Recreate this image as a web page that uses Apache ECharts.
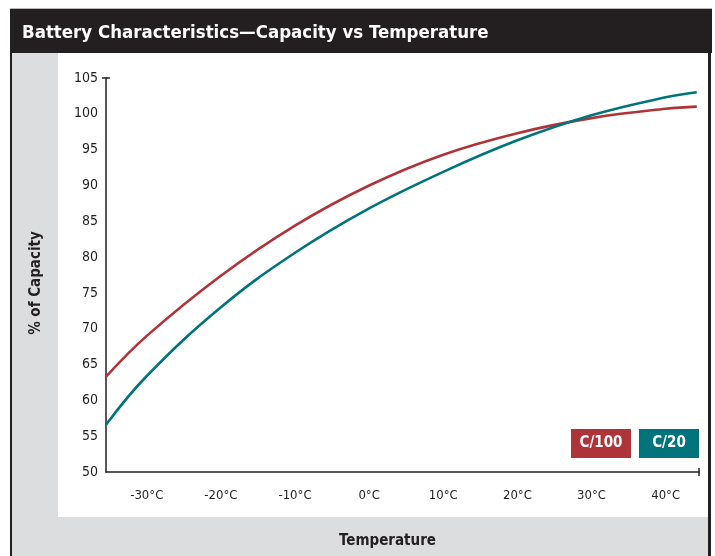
<!DOCTYPE html>
<html>
<head>
<meta charset="utf-8">
<script src="https://cdn.jsdelivr.net/npm/echarts@6/dist/echarts.min.js"></script>
<style>
  html, body { margin: 0; padding: 0; background: #ffffff; }
  #wrap { position: relative; width: 715px; height: 556px; overflow: hidden; }
  .blk { position: absolute; }
  #chart { position: absolute; left: 0; top: 0; width: 715px; height: 556px; }
</style>
</head>
<body>
<div id="wrap">
  <div class="blk" style="left:10px;top:8px;width:702px;height:1px;background:#b9b9b9;"></div>
  <div class="blk" style="left:10px;top:9px;width:702px;height:44px;background:#231f20;"></div>
  <div class="blk" style="left:10px;top:53px;width:2px;height:503px;background:#231f20;"></div>
  <div class="blk" style="left:708px;top:53px;width:3px;height:503px;background:#231f20;"></div>
  <div class="blk" style="left:12px;top:53px;width:46px;height:503px;background:#dcdddf;"></div>
  <div class="blk" style="left:12px;top:517px;width:696px;height:39px;background:#dcdddf;"></div>
  <div id="chart"></div>
</div>
<script>
// ---- data ----
const titleText = 'Battery Characteristics\u2014Capacity vs Temperature';
const xAxisName = 'Temperature';
const yAxisName = '% of Capacity';
const xTickValues = [-30, -20, -10, 0, 10, 20, 30, 40];
const temps = [-35.5, -30, -20, -10, 0, 10, 20, 30, 40, 44.2];
const c100 = [63.3, 69.0, 77.4, 84.4, 90.0, 94.3, 97.3, 99.4, 100.7, 101.0];
const c20  = [56.6, 63.4, 73.0, 80.6, 86.8, 91.9, 96.3, 99.8, 102.3, 103.0];
const seriesNames = ['C/100', 'C/20'];
const seriesColors = ['#ae3439', '#00737b'];

const FONT = '"DejaVu Sans Condensed", "Liberation Sans Narrow", sans-serif';

const chart = echarts.init(document.getElementById('chart'), null, { renderer: 'canvas' });

function pairs(xs, ys) { return xs.map((x, i) => [x, ys[i]]); }

const richBox = (c) => ({ backgroundColor: c, color: '#fff', width: 60, height: 29, lineHeight: 29, align: 'center', fontFamily: FONT, fontWeight: 'bold', fontSize: 15 });

const option = {
  animation: false,
  backgroundColor: 'transparent',
  title: {
    text: titleText,
    left: 17,
    top: 19,
    textStyle: { color: '#ffffff', fontFamily: FONT, fontWeight: 'bold', fontSize: 18.5 }
  },
  grid: { left: 106, right: 16, top: 78, bottom: 84 },
  legend: {
    right: 16,
    top: 429,
    padding: 0,
    icon: 'rect',
    itemWidth: 0,
    itemHeight: 0,
    itemGap: 3,
    selectedMode: false,
    data: seriesNames.map(n => ({ name: n })),
    formatter: function (name) {
      return '{s' + seriesNames.indexOf(name) + '|' + name + '}';
    },
    textStyle: {
      rich: { s0: richBox(seriesColors[0]), s1: richBox(seriesColors[1]) }
    }
  },
  xAxis: {
    type: 'value',
    min: -35.5,
    max: 44.5,
    name: xAxisName,
    nameLocation: 'middle',
    nameGap: 62,
    nameTextStyle: { color: '#231f20', fontFamily: FONT, fontWeight: 'bold', fontSize: 15, padding: [0, 30, 0, 0] },
    axisLine: { show: true, onZero: false, symbol: ['none', 'rect'], symbolSize: [8, 1.5], lineStyle: { color: '#231f20', width: 1.5 } },
    axisTick: { show: false },
    splitLine: { show: false },
    axisLabel: {
      customValues: xTickValues,
      formatter: v => v + '°C',
      color: '#231f20', fontFamily: FONT, fontSize: 13, margin: 17
    }
  },
  yAxis: {
    type: 'value',
    min: 50,
    max: 105,
    interval: 5,
    name: yAxisName,
    nameLocation: 'middle',
    nameGap: 62,
    nameRotate: 90,
    nameTextStyle: { color: '#231f20', fontFamily: FONT, fontWeight: 'bold', fontSize: 15, padding: [0, 16, 0, 0] },
    axisLine: { show: true, onZero: false, symbol: ['none', 'rect'], symbolSize: [8, 1.5], lineStyle: { color: '#231f20', width: 1.5 } },
    axisTick: { show: false },
    splitLine: { show: false },
    axisLabel: { color: '#231f20', fontFamily: FONT, fontSize: 14, margin: 8 }
  },
  series: [
    { name: seriesNames[0], type: 'line', smooth: 0.4, symbol: 'none', data: pairs(temps, c100), lineStyle: { color: seriesColors[0], width: 2.6 }, itemStyle: { color: seriesColors[0] } },
    { name: seriesNames[1], type: 'line', smooth: 0.4, symbol: 'none', data: pairs(temps, c20), lineStyle: { color: seriesColors[1], width: 2.6 }, itemStyle: { color: seriesColors[1] } }
  ]
};
chart.setOption(option);
</script>
</body>
</html>
